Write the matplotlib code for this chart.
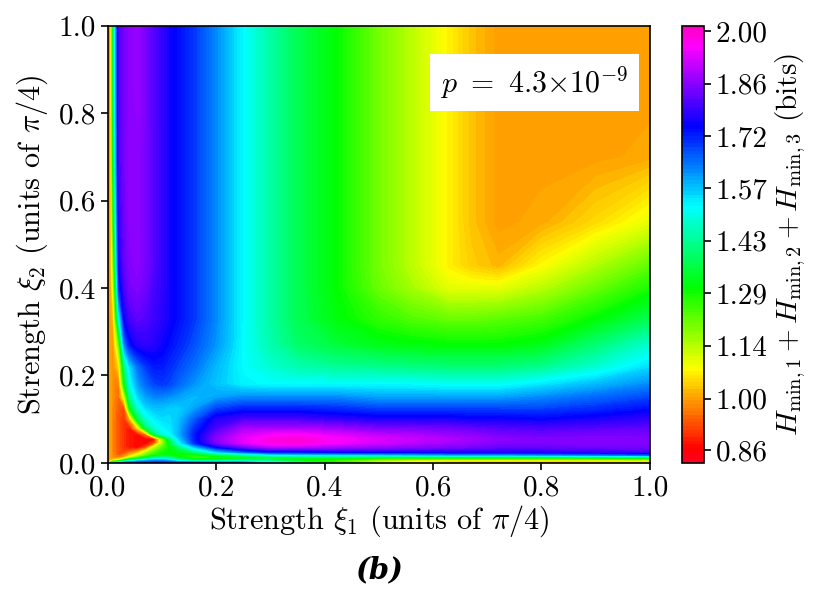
import numpy as np
import matplotlib
matplotlib.use("Agg")
import matplotlib.pyplot as plt

plt.rcParams['font.family'] = 'serif'
plt.rcParams['font.serif'] = ['cmr10', 'DejaVu Serif']
plt.rcParams['mathtext.fontset'] = 'cm'
plt.rcParams['axes.formatter.use_mathtext'] = True

# grid of strengths (units of pi/4)
xi1 = [0, .005, .01, .02, .03, .04, .055, .07, .085, .1, .115, .13, .16, .2,
       .25, .3, .35, .42, .5, .56, .63, .67, .72, .8, .9, 1.0]
xi2 = [0, .006, .012, .018, .025, .035, .045, .055, .065, .08, .1, .125, .15,
       .18, .22, .27, .33, .4, .45, .55, .7, .85, 1.0]

# H_min,1 + H_min,2 + H_min,3 (bits), one row per xi2 value
H = [
    [0.98,1.30,1.55,1.68,1.70,1.71,1.72,1.72,1.72,1.72,1.72,1.72,1.72,1.70,1.68,1.55,1.45,1.30,1.15,1.05,1.01,1.00,1.00,1.00,1.00,1.00],
    [0.98,1.02,1.05,1.12,1.28,1.40,1.50,1.55,1.60,1.60,1.55,1.45,1.35,1.35,1.40,1.38,1.30,1.25,1.14,1.10,1.08,1.07,1.07,1.07,1.08,1.09],
    [0.98,1.00,0.98,0.97,1.02,1.12,1.22,1.32,1.40,1.42,1.40,1.32,1.25,1.25,1.28,1.33,1.32,1.32,1.30,1.30,1.30,1.30,1.30,1.30,1.32,1.35],
    [0.98,1.00,0.97,0.94,0.96,1.02,1.10,1.20,1.27,1.30,1.30,1.28,1.28,1.35,1.42,1.50,1.53,1.54,1.55,1.56,1.58,1.58,1.58,1.60,1.62,1.65],
    [0.98,1.00,0.97,0.93,0.92,0.95,1.00,1.12,1.22,1.28,1.30,1.32,1.40,1.55,1.65,1.72,1.72,1.74,1.75,1.75,1.76,1.76,1.76,1.77,1.78,1.79],
    [0.98,1.00,0.97,0.93,0.90,0.88,0.87,0.93,1.12,1.22,1.30,1.38,1.55,1.72,1.82,1.88,1.88,1.87,1.86,1.85,1.84,1.83,1.82,1.82,1.83,1.83],
    [0.98,1.00,0.97,0.93,0.90,0.88,0.87,0.86,0.92,1.15,1.35,1.50,1.70,1.84,1.93,1.98,1.99,1.95,1.92,1.90,1.88,1.87,1.85,1.85,1.85,1.85],
    [0.98,1.00,0.97,0.93,0.90,0.88,0.87,0.86,0.87,1.15,1.40,1.55,1.72,1.86,1.94,1.98,1.99,1.96,1.93,1.91,1.89,1.88,1.86,1.85,1.85,1.85],
    [0.98,1.00,0.97,0.93,0.90,0.88,0.87,0.95,1.35,1.48,1.52,1.58,1.72,1.84,1.92,1.95,1.96,1.93,1.90,1.89,1.87,1.86,1.84,1.83,1.84,1.84],
    [0.98,1.00,0.97,0.93,0.90,0.88,1.05,1.38,1.48,1.52,1.54,1.58,1.70,1.80,1.88,1.88,1.88,1.87,1.84,1.84,1.83,1.82,1.81,1.80,1.81,1.82],
    [0.98,1.00,0.97,0.93,0.90,1.00,1.35,1.48,1.53,1.55,1.55,1.57,1.66,1.77,1.80,1.80,1.80,1.78,1.76,1.76,1.76,1.75,1.75,1.74,1.76,1.78],
    [0.98,1.00,0.97,0.94,0.92,1.30,1.48,1.55,1.57,1.57,1.56,1.56,1.60,1.68,1.71,1.71,1.71,1.70,1.68,1.68,1.68,1.68,1.68,1.68,1.70,1.73],
    [0.98,1.00,0.98,0.95,1.10,1.42,1.55,1.60,1.62,1.62,1.61,1.60,1.58,1.60,1.62,1.62,1.62,1.62,1.60,1.60,1.60,1.60,1.60,1.62,1.65,1.68],
    [0.98,1.00,0.98,0.96,1.30,1.50,1.60,1.65,1.68,1.69,1.68,1.65,1.61,1.57,1.53,1.52,1.52,1.52,1.52,1.52,1.51,1.51,1.51,1.54,1.58,1.62],
    [0.98,1.00,0.99,1.05,1.40,1.55,1.64,1.69,1.72,1.72,1.70,1.68,1.64,1.58,1.52,1.48,1.45,1.43,1.42,1.41,1.40,1.40,1.40,1.42,1.48,1.55],
    [0.98,1.00,0.99,1.20,1.62,1.72,1.77,1.78,1.77,1.75,1.73,1.71,1.67,1.61,1.52,1.45,1.39,1.35,1.32,1.31,1.30,1.30,1.30,1.32,1.40,1.48],
    [0.98,1.00,1.03,1.50,1.75,1.80,1.82,1.81,1.79,1.77,1.75,1.73,1.69,1.62,1.52,1.44,1.37,1.31,1.26,1.23,1.21,1.21,1.22,1.24,1.30,1.37],
    [0.98,1.00,1.12,1.70,1.80,1.84,1.85,1.83,1.80,1.78,1.75,1.73,1.69,1.62,1.52,1.44,1.37,1.30,1.21,1.16,1.10,1.10,1.10,1.14,1.21,1.28],
    [0.98,1.00,1.18,1.75,1.82,1.85,1.86,1.84,1.81,1.78,1.75,1.73,1.69,1.62,1.52,1.44,1.37,1.30,1.20,1.14,1.07,1.04,1.02,1.08,1.15,1.22],
    [0.98,1.00,1.28,1.78,1.83,1.86,1.86,1.84,1.81,1.78,1.75,1.73,1.69,1.62,1.52,1.44,1.37,1.30,1.20,1.14,1.07,1.03,1.00,1.01,1.05,1.10],
    [0.98,1.00,1.36,1.80,1.84,1.86,1.86,1.84,1.81,1.78,1.75,1.73,1.69,1.62,1.52,1.44,1.37,1.30,1.20,1.14,1.07,1.03,1.00,1.00,1.00,1.01],
    [0.98,1.00,1.40,1.80,1.84,1.86,1.87,1.84,1.81,1.78,1.75,1.73,1.69,1.62,1.52,1.44,1.37,1.30,1.20,1.14,1.07,1.03,1.00,1.00,1.00,1.00],
    [0.98,1.00,1.40,1.80,1.84,1.86,1.87,1.84,1.81,1.78,1.75,1.73,1.69,1.62,1.52,1.44,1.37,1.30,1.20,1.14,1.07,1.03,1.00,1.00,1.00,1.00],
]

cbar_ticks = [0.86, 1.00, 1.1425, 1.2875, 1.43, 1.5725, 1.715, 1.8575, 2.00]
cbar_labels = ['0.86', '1.00', '1.14', '1.29', '1.43', '1.57', '1.72', '1.86', '2.00']
axis_ticks = [0.0, 0.2, 0.4, 0.6, 0.8, 1.0]

X, Y = np.meshgrid(xi1, xi2)
Z = np.array(H)

fig = plt.figure(figsize=(8.3, 5.98), dpi=100)
ax = fig.add_axes([0.130, 0.226, 0.653, 0.731])
cax = fig.add_axes([0.822, 0.226, 0.026, 0.731])

levels = np.linspace(0.825, 2.015, 120)
cs = ax.contourf(X, Y, Z, levels=levels, cmap='gist_rainbow')

ax.set_xlim(0, 1)
ax.set_ylim(0, 1)
ax.set_xticks(axis_ticks)
ax.set_yticks(axis_ticks)
ax.set_xticklabels(['%.1f' % t for t in axis_ticks])
ax.set_yticklabels(['%.1f' % t for t in axis_ticks])
ax.tick_params(labelsize=21, length=5, width=1.2)
for s in ax.spines.values():
    s.set_linewidth(1.2)
ax.set_xlabel(r'Strength $\xi_1$ (units of $\pi/4$)', fontsize=21.8, labelpad=2)
ax.set_ylabel(r'Strength $\xi_2$ (units of $\pi/4$)', fontsize=21.8, labelpad=6)

ax.text(0.787, 0.87, r'$p\ =\ 4.3{\times}10^{-9}$', transform=ax.transAxes,
        fontsize=21.5, ha='center', va='center',
        bbox=dict(boxstyle='square,pad=0.35', fc='white', ec='none'))

cb = fig.colorbar(cs, cax=cax)
cb.set_ticks(cbar_ticks)
cb.set_ticklabels(cbar_labels)
cb.ax.tick_params(labelsize=21, length=5, width=1.2)
cb.outline.set_linewidth(1.2)
cb.set_label(r'$H_{\min,1}+H_{\min,2}+H_{\min,3}$ (bits)', fontsize=21, labelpad=4)

fig.text(0.457, 0.047, '(b)', fontsize=21, fontweight='bold', fontstyle='italic',
         family='DejaVu Serif', ha='center', va='center')

fig.savefig('out.png', dpi=100)
